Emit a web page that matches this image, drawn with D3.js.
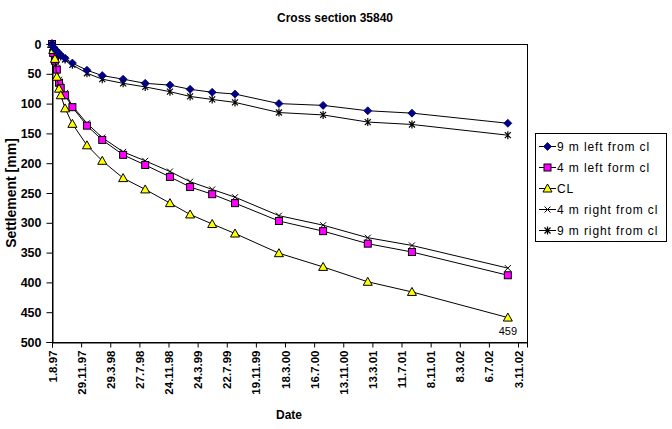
<!DOCTYPE html>
<html><head><meta charset="utf-8">
<script src="https://cdn.jsdelivr.net/npm/d3@7"></script>
<style>
html,body{margin:0;padding:0;background:#fff;}
svg{display:block;}
text{font-family:"Liberation Sans",Arial,sans-serif;}
</style></head>
<body><svg id="c" width="672" height="429"></svg>
<script>
// ---- data ----
const measureDates = ["1.8.97","6.8.97","13.8.97","21.8.97","30.8.97","6.9.97","24.9.97","24.10.97","23.12.97","24.2.98","21.5.98","20.8.98","30.11.98","21.2.99","23.5.99","25.8.99","22.2.00","22.8.00","22.2.01","23.8.01","22.9.02"];
const left9  = [0,5,9,12,16,19,24,32,44,53,59,66,69,76,81,84,100,103,112,116,133];
const left4  = [0,15,28,43,65,74,86,106,137,161,186,203,223,240,252,267,297,314,335,349,388];
const cl     = [0,10,25,55,75,86,108,134,170,196,225,244,267,286,302,318,351,374,399,416,459];
const right4 = [0,12,25,40,60,70,82,104,133,157,181,196,214,231,244,257,288,304,325,338,376];
const right9 = [0,5,10,14,18,21,26,35,49,59,66,72,80,88,93,98,115,119,131,135,153];
const seriesNames = ["9 m left from cl","4 m left form cl","CL","4 m right from cl","9 m right from cl"];
const tickLabels = ["1.8.97","29.11.97","29.3.98","27.7.98","24.11.98","24.3.99","22.7.99","19.11.99","18.3.00","16.7.00","13.11.00","13.3.01","11.7.01","8.11.01","8.3.02","6.7.02","3.11.02"];
const yTicks = [0,50,100,150,200,250,300,350,400,450,500];
const axisEnd = "10.12.02";

const parse = d3.timeParse("%d.%m.%y");
const svg = d3.select("#c");
const L=52, R=527, T=44, B=342;
const x = d3.scaleTime().domain([parse(tickLabels[0]), parse(axisEnd)]).range([L,R]);
const y = d3.scaleLinear().domain([0,500]).range([T,B]);

// plot frame
svg.append("rect").attr("x",L+0.5).attr("y",T+0.5).attr("width",R-L).attr("height",B-T)
  .attr("fill","none").attr("stroke","#000").attr("stroke-width",1);

// y axis
const yAx = svg.append("g").attr("transform",`translate(${L+0.5},0)`)
  .call(d3.axisLeft(y).tickValues(yTicks).tickSize(6).tickPadding(5).tickFormat(d3.format("d")));
yAx.select(".domain").attr("stroke","#000");
yAx.selectAll("text").attr("font-size","12.5px").attr("font-weight","bold").attr("fill","#000")
  .style("font-family","'Liberation Sans',Arial,sans-serif");

// x axis
const xAx = svg.append("g").attr("transform",`translate(0,${B+0.5})`)
  .call(d3.axisBottom(x).tickValues(tickLabels.map(parse)).tickSize(5)
     .tickFormat((d,i)=>tickLabels[i]));
xAx.select(".domain").attr("stroke","#000");
xAx.selectAll(".tick line").attr("stroke","#000");
xAx.selectAll("text").attr("font-size","11.5px").attr("font-weight","bold").attr("fill","#000")
  .style("font-family","'Liberation Sans',Arial,sans-serif")
  .attr("transform","rotate(-90)").attr("text-anchor","end").attr("x",-8).attr("y",0).attr("dy","0.35em");

// titles
svg.append("text").attr("x",335).attr("y",22).attr("text-anchor","middle")
  .attr("font-size","12px").attr("font-weight","bold").text("Cross section 35840");
svg.append("text").attr("x",289).attr("y",419).attr("text-anchor","middle")
  .attr("font-size","12px").attr("font-weight","bold").text("Date");
svg.append("text").attr("transform","translate(16,193) rotate(-90)").attr("text-anchor","middle")
  .attr("font-size","14px").attr("font-weight","bold").text("Settlement [mm]");

// series
const dates = measureDates.map(parse);
const allSeries = [left9,left4,cl,right4,right9];
const markers = ["diamond","square","triangle","x","star"];
const line = d3.line().x(d=>x(d[0])).y(d=>y(d[1]));

function drawMarker(g, type, cx, cy){
  if(type==="diamond"){
    g.append("path").attr("d",`M${cx},${cy-4}L${cx+4},${cy}L${cx},${cy+4}L${cx-4},${cy}Z`)
      .attr("fill","#000080").attr("stroke","#000080").attr("stroke-width",0.8);
  } else if(type==="square"){
    g.append("rect").attr("x",cx-3.5).attr("y",cy-3.5).attr("width",7).attr("height",7)
      .attr("fill","#FF00FF").attr("stroke","#000").attr("stroke-width",1);
  } else if(type==="triangle"){
    g.append("path").attr("d",`M${cx},${cy-4.5}L${cx+4.5},${cy+3.5}L${cx-4.5},${cy+3.5}Z`)
      .attr("fill","#FFFF00").attr("stroke","#000").attr("stroke-width",1);
  } else if(type==="x"){
    g.append("path").attr("d",`M${cx-3},${cy-3}L${cx+3},${cy+3}M${cx+3},${cy-3}L${cx-3},${cy+3}`)
      .attr("stroke","#000").attr("stroke-width",1);
  } else if(type==="star"){
    g.append("path").attr("d",`M${cx-3},${cy-3}L${cx+3},${cy+3}M${cx+3},${cy-3}L${cx-3},${cy+3}M${cx},${cy-4}L${cx},${cy+4}`)
      .attr("stroke","#000").attr("stroke-width",1.2);
  }
}

const order=[4,3,1,2,0];
order.forEach(si=>{
  const vals = allSeries[si];
  const pts = dates.map((d,i)=>[d,vals[i]]);
  const g = svg.append("g");
  g.append("path").attr("d",line(pts)).attr("fill","none").attr("stroke","#000").attr("stroke-width",1);
  pts.forEach(p=>drawMarker(g, markers[si], x(p[0]), y(p[1])));
});

// data label for last CL point
svg.append("text").attr("x",x(dates[dates.length-1])).attr("y",y(cl[cl.length-1])+17)
  .attr("text-anchor","middle").attr("font-size","11px").text(cl[cl.length-1]);

// legend
const lg = svg.append("g");
lg.append("rect").attr("x",535.5).attr("y",133.5).attr("width",131).attr("height",108)
  .attr("fill","#fff").attr("stroke","#000").attr("stroke-width",1);
seriesNames.forEach((n,i)=>{
  const ry = 146 + i*21;
  lg.append("line").attr("x1",539).attr("x2",556).attr("y1",ry+0.5).attr("y2",ry+0.5).attr("stroke","#000");
  drawMarker(lg, markers[i], 547.5, ry+0.5);
  lg.append("text").attr("x",557).attr("y",ry+4.5).attr("font-size","12px").attr("letter-spacing","0.9px").text(n);
});
</script></body></html>
